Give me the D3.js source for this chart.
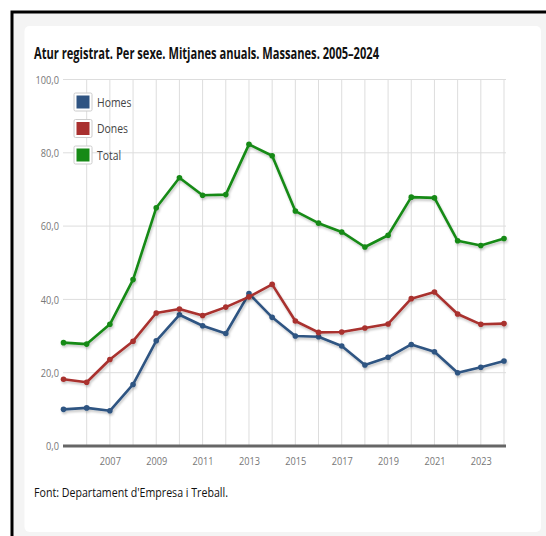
<!DOCTYPE html>
<html>
<head>
<meta charset="utf-8">
<script src="https://cdn.jsdelivr.net/npm/d3@7"></script>
<style>
  body { margin: 0; background: #fff; }
  svg { display: block; }
</style>
</head>
<body>
<div id="chart"></div>
<script>
// Atur registrat per sexe, Massanes 2005-2024
var years = d3.range(2005, 2025);
var homes = [10.0, 10.4, 9.6, 16.8, 28.7, 35.8, 32.8, 30.7, 41.6, 35.1, 30.0, 29.8, 27.3, 22.1, 24.2, 27.7, 25.7, 20.0, 21.5, 23.2];
var dones = [18.2, 17.4, 23.6, 28.6, 36.3, 37.4, 35.6, 37.9, 40.7, 44.1, 34.1, 31.0, 31.1, 32.2, 33.3, 40.2, 42.0, 36.0, 33.2, 33.4];
var total = [28.2, 27.8, 33.2, 45.4, 65.0, 73.2, 68.4, 68.6, 82.3, 79.2, 64.1, 60.8, 58.4, 54.3, 57.5, 67.9, 67.7, 56.0, 54.7, 56.6];
var seriesNames = ["Homes", "Dones", "Total"];
var seriesColors = ["#2f5482", "#a9302f", "#168a16"];
var yTicks = [0, 20, 40, 60, 80, 100];
var xTickYears = [2007, 2009, 2011, 2013, 2015, 2017, 2019, 2021, 2023];

var FONT = "'Open Sans', sans-serif";
var W = 546, H = 536;

// squeeze text horizontally, the original uses a condensed face
function condense(sel, k) {
    sel.each(function() {
        var len = this.getComputedTextLength();
        d3.select(this).attr("textLength", len * k).attr("lengthAdjust", "spacingAndGlyphs");
    });
}

var svg = d3.select("#chart").append("svg")
    .attr("width", W)
    .attr("height", H);

// page frame
svg.append("rect").attr("x", 0).attr("y", 0).attr("width", W).attr("height", H).attr("fill", "#fff");
svg.append("rect").attr("x", 12).attr("y", 12).attr("width", W).attr("height", H)
   .attr("fill", "#f4f4f4").attr("stroke", "#000").attr("stroke-width", 3);
svg.append("rect").attr("x", 24.5).attr("y", 26).attr("width", 516.5).attr("height", 506)
   .attr("rx", 5).attr("fill", "#fff");

var defs = svg.append("defs");
var f = defs.append("filter").attr("id", "shadow").attr("x", "-5%").attr("y", "-5%")
    .attr("width", "110%").attr("height", "120%");
f.append("feDropShadow").attr("dx", 1).attr("dy", 2).attr("stdDeviation", 1.2)
    .attr("flood-color", "#000").attr("flood-opacity", 0.22);

svg.append("text")
   .attr("x", 34).attr("y", 58.5)
   .attr("font-family", FONT)
   .attr("font-weight", "bold")
   .attr("font-size", 16.5)
   .attr("fill", "#111")
   .attr("textLength", 345).attr("lengthAdjust", "spacingAndGlyphs")
   .text("Atur registrat. Per sexe. Mitjanes anuals. Massanes. 2005–2024");

var x = d3.scaleLinear().domain([2005, 2024]).range([63.5, 504]);
var y = d3.scaleLinear().domain([0, 100]).range([446, 79.5]);

var g = svg.append("g");

// horizontal grid
g.selectAll(".hgrid").data(yTicks.slice(1)).enter().append("line")
  .attr("x1", 63).attr("x2", 506)
  .attr("y1", d => y(d)).attr("y2", d => y(d))
  .attr("stroke", "#ddd").attr("stroke-width", 1);

// vertical grid
g.selectAll(".vgrid").data(years.slice(1)).enter().append("line")
  .attr("x1", d => x(d)).attr("x2", d => x(d))
  .attr("y1", y(100)).attr("y2", y(0))
  .attr("stroke", "#ddd").attr("stroke-width", 1);

// y axis labels
var yAxis = d3.axisLeft(y).tickValues(yTicks).tickSize(0).tickPadding(4)
    .tickFormat(d => d3.format(".1f")(d).replace(".", ","));
g.append("g").attr("transform", "translate(63,0)").call(yAxis)
  .call(s => s.select(".domain").remove())
  .selectAll("text")
  .attr("font-family", FONT)
  .attr("font-size", 11.5).attr("fill", "#777")
  .call(condense, 0.8);

// x axis
var xAxis = d3.axisBottom(x).tickValues(xTickYears).tickSize(0).tickPadding(11)
    .tickFormat(d3.format("d"));
g.append("g").attr("transform", "translate(0," + y(0) + ")").call(xAxis)
  .call(s => s.select(".domain").remove())
  .selectAll("text")
  .attr("font-family", FONT)
  .attr("font-size", 11.5).attr("fill", "#777")
  .call(condense, 0.8);
g.append("line").attr("x1", 63).attr("x2", 506).attr("y1", y(0)).attr("y2", y(0))
  .attr("stroke", "#666").attr("stroke-width", 3);

// lines
var allSeries = [homes, dones, total];
var line = d3.line().x((d, i) => x(years[i])).y(d => y(d));

allSeries.forEach(function(vals, k) {
    var sg = g.append("g").attr("filter", "url(#shadow)");
    sg.append("path").datum(vals)
      .attr("d", line)
      .attr("fill", "none")
      .attr("stroke", seriesColors[k])
      .attr("stroke-width", 2.6)
      .attr("stroke-linejoin", "round");
    sg.selectAll("circle").data(vals).enter().append("circle")
      .attr("cx", (d, i) => x(years[i]))
      .attr("cy", d => y(d))
      .attr("r", 2.8)
      .attr("fill", seriesColors[k]);
});

// legend
var leg = svg.append("g").selectAll("g").data(seriesNames).enter().append("g")
    .attr("transform", (d, i) => "translate(74," + (93 + i * 26.5) + ")");
leg.append("rect").attr("x", 0).attr("y", 0).attr("width", 18).attr("height", 18)
   .attr("fill", "#fff").attr("stroke", "#ccc").attr("stroke-width", 1).attr("rx", 1.5);
leg.append("rect").attr("x", 2.5).attr("y", 2.5).attr("width", 13).attr("height", 13)
   .attr("fill", (d, i) => seriesColors[i]);
leg.append("text").attr("x", 23).attr("y", 9).attr("dy", "0.35em")
   .attr("font-family", FONT)
   .attr("font-size", 13).attr("fill", "#444")
   .text(d => d)
   .call(condense, 0.8);

svg.append("text")
   .attr("x", 34).attr("y", 497)
   .attr("font-family", FONT)
   .attr("font-size", 12.5)
   .attr("fill", "#111")
   .attr("textLength", 194).attr("lengthAdjust", "spacingAndGlyphs")
   .text("Font: Departament d'Empresa i Treball.");
</script>
</body>
</html>
